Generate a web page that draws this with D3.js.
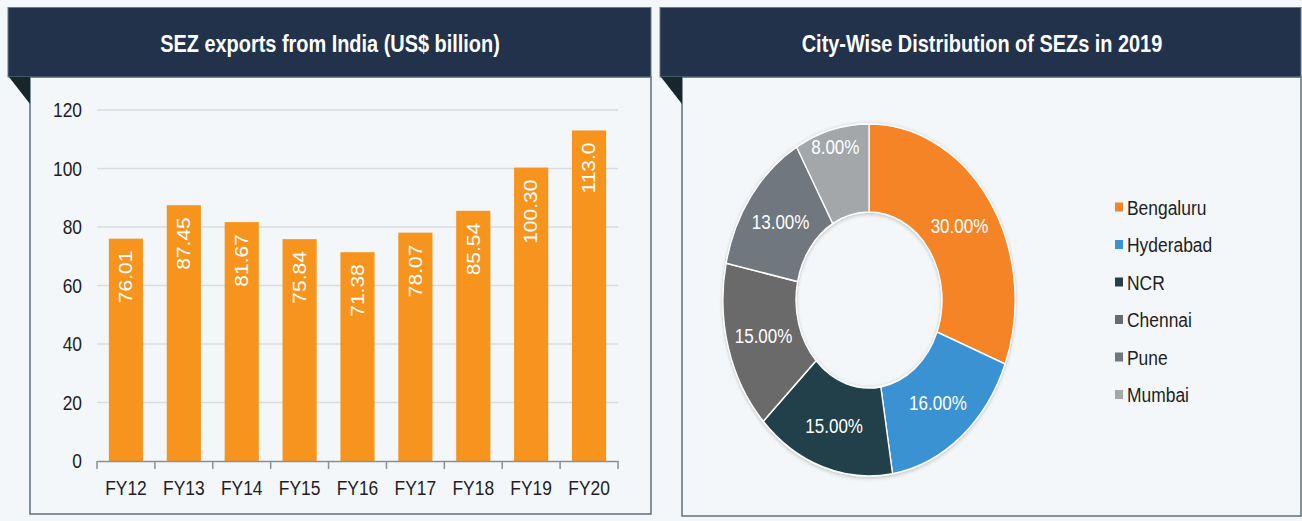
<!DOCTYPE html>
<html>
<head>
<meta charset="utf-8">
<script src="https://cdn.jsdelivr.net/npm/d3@7"></script>
<style>
  html, body { margin: 0; padding: 0; background: #f4f7f9; }
  svg { display: block; font-family: "Liberation Sans", Arial, sans-serif; }
</style>
</head>
<body>
<svg id="chart" width="1302" height="521"></svg>
<script>
// ---------- data ----------
const categories = ["FY12", "FY13", "FY14", "FY15", "FY16", "FY17", "FY18", "FY19", "FY20"];
const exportsValues = [76.01, 87.45, 81.67, 75.84, 71.38, 78.07, 85.54, 100.30, 113.0];
const exportLabels = ["76.01", "87.45", "81.67", "75.84", "71.38", "78.07", "85.54", "100.30", "113.0"];
const yTicks = [0, 20, 40, 60, 80, 100, 120];

const cities = ["Bengaluru", "Hyderabad", "NCR", "Chennai", "Pune", "Mumbai"];
const cityShares = [30, 16, 15, 15, 13, 8];
const cityColors = ["#f58426", "#3a92d2", "#243f4a", "#6a6a6a", "#6f777e", "#a3a7aa"];

const leftTitle = "SEZ exports from India (US$ billion)";
const rightTitle = "City-Wise Distribution of SEZs in 2019";

// ---------- setup ----------
const SX = 0.83; // horizontal text compression of the original
const svg = d3.select("#chart");
const HEADER = "#21324a", BORDER = "#5d717b", TRI = "#16262b";

function panel(x0, x1, yBottom, title, titleX) {
  // body border
  svg.append("rect").attr("x", x0 + 22).attr("y", 77).attr("width", x1 - x0 - 22).attr("height", yBottom - 77)
    .attr("fill", "#f4f7f9").attr("stroke", BORDER).attr("stroke-width", 1.5);
  // header
  svg.append("rect").attr("x", x0).attr("y", 7.5).attr("width", x1 - x0).attr("height", 69.5)
    .attr("fill", HEADER).attr("stroke", "#647c88").attr("stroke-width", 1);
  // triangle
  svg.append("path").attr("d", `M${x0 + 1},77 L${x0 + 22},77 L${x0 + 22},104 Z`).attr("fill", TRI);
  svg.append("text").attr("transform", `translate(${titleX},52) scale(${SX},1)`)
    .attr("text-anchor", "middle").attr("fill", "#ffffff").attr("font-weight", "bold")
    .attr("font-size", 24).text(title);
}
panel(8, 651, 514, leftTitle, 330);
panel(660, 1301, 516, rightTitle, 982);

// ---------- bar chart ----------
const x = d3.scaleBand().domain(categories).range([97, 618]).paddingInner(0.41).paddingOuter(0.205);
const y = d3.scaleLinear().domain([0, 120]).range([461, 110]);

// gridlines
svg.append("g").selectAll("line").data(yTicks.filter(d => d > 0)).join("line")
  .attr("x1", 97).attr("x2", 618).attr("y1", d => y(d)).attr("y2", d => y(d))
  .attr("stroke", "#d9dcdf").attr("stroke-width", 1.5);

// y axis
const yAxis = svg.append("g").attr("transform", "translate(97,0)")
  .call(d3.axisLeft(y).tickValues(yTicks).tickSize(0).tickPadding(15));
yAxis.select(".domain").remove();
yAxis.selectAll("text").attr("font-size", 21).attr("fill", "#1e1e24")
  .attr("font-family", "Liberation Sans, Arial, sans-serif")
  .attr("x", -15 / SX).attr("transform", `scale(${SX},1)`);

// bars
svg.append("g").selectAll("rect").data(exportsValues).join("rect")
  .attr("x", (d, i) => x(categories[i])).attr("width", x.bandwidth())
  .attr("y", d => y(d)).attr("height", d => y(0) - y(d))
  .attr("fill", "#f7941d");

// bar labels
svg.append("g").selectAll("text").data(exportsValues).join("text")
  .attr("transform", (d, i) => `translate(${x(categories[i]) + x.bandwidth() / 2},${y(d) + 12}) scale(${SX},1) rotate(-90)`)
  .attr("text-anchor", "end").attr("dy", "0.36em")
  .attr("fill", "#ffffff").attr("font-size", 21)
  .text((d, i) => exportLabels[i]);

// x axis
const xAxis = svg.append("g").attr("transform", "translate(0,461)")
  .call(d3.axisBottom(x).tickSize(0).tickPadding(19));
xAxis.select(".domain").attr("stroke", "#8a8f94").attr("stroke-width", 1.5);
xAxis.selectAll("text").attr("font-size", 21).attr("fill", "#1e1e24")
  .attr("font-family", "Liberation Sans, Arial, sans-serif")
  .attr("transform", `scale(${SX},1)`);
xAxis.append("g").selectAll("line").data(d3.range(categories.length + 1)).join("line")
  .attr("x1", i => x.range()[0] + i * x.step()).attr("x2", i => x.range()[0] + i * x.step())
  .attr("y1", 0).attr("y2", 8).attr("stroke", "#8a8f94").attr("stroke-width", 1.5);

// ---------- donut ----------
const defs = svg.append("defs");
const f = defs.append("filter").attr("id", "shadow").attr("x", "-20%").attr("y", "-20%").attr("width", "140%").attr("height", "140%");
f.append("feDropShadow").attr("dx", 0).attr("dy", 1).attr("stdDeviation", 2).attr("flood-color", "#000").attr("flood-opacity", 0.25);

const R = 176, r0 = 88;
const pie = d3.pie().sort(null).value(d => d)(cityShares);
const arc = d3.arc().innerRadius(r0).outerRadius(R);
const donut = svg.append("g").attr("transform", `translate(869,300) scale(${SX},1)`);
donut.append("g").attr("filter", "url(#shadow)").selectAll("path").data(pie).join("path")
  .attr("d", arc).attr("fill", (d, i) => cityColors[i])
  .attr("stroke", "#ffffff").attr("stroke-width", 1.6);
donut.append("g").selectAll("text").data(pie).join("text")
  .attr("transform", d => {
    const a = (d.startAngle + d.endAngle) / 2;
    const rr = (d.value < 10 ? 0.9 : 0.75) * R;
    return `translate(${Math.sin(a) * rr},${-Math.cos(a) * rr})`;
  })
  .attr("text-anchor", "middle").attr("dy", "0.36em")
  .attr("fill", "#ffffff").attr("font-size", 20.5)
  .text(d => d.value.toFixed(2) + "%");

// ---------- legend ----------
const leg = svg.append("g").selectAll("g").data(cities).join("g")
  .attr("transform", (d, i) => `translate(1115,${207 + i * 37.5})`);
leg.append("rect").attr("x", 0).attr("y", -4.5).attr("width", 8).attr("height", 9)
  .attr("fill", (d, i) => cityColors[i]);
leg.append("text").attr("transform", `translate(12,0) scale(${SX},1)`).attr("dy", "0.36em")
  .attr("font-size", 21).attr("fill", "#1e1e24").text(d => d);
</script>
</body>
</html>
